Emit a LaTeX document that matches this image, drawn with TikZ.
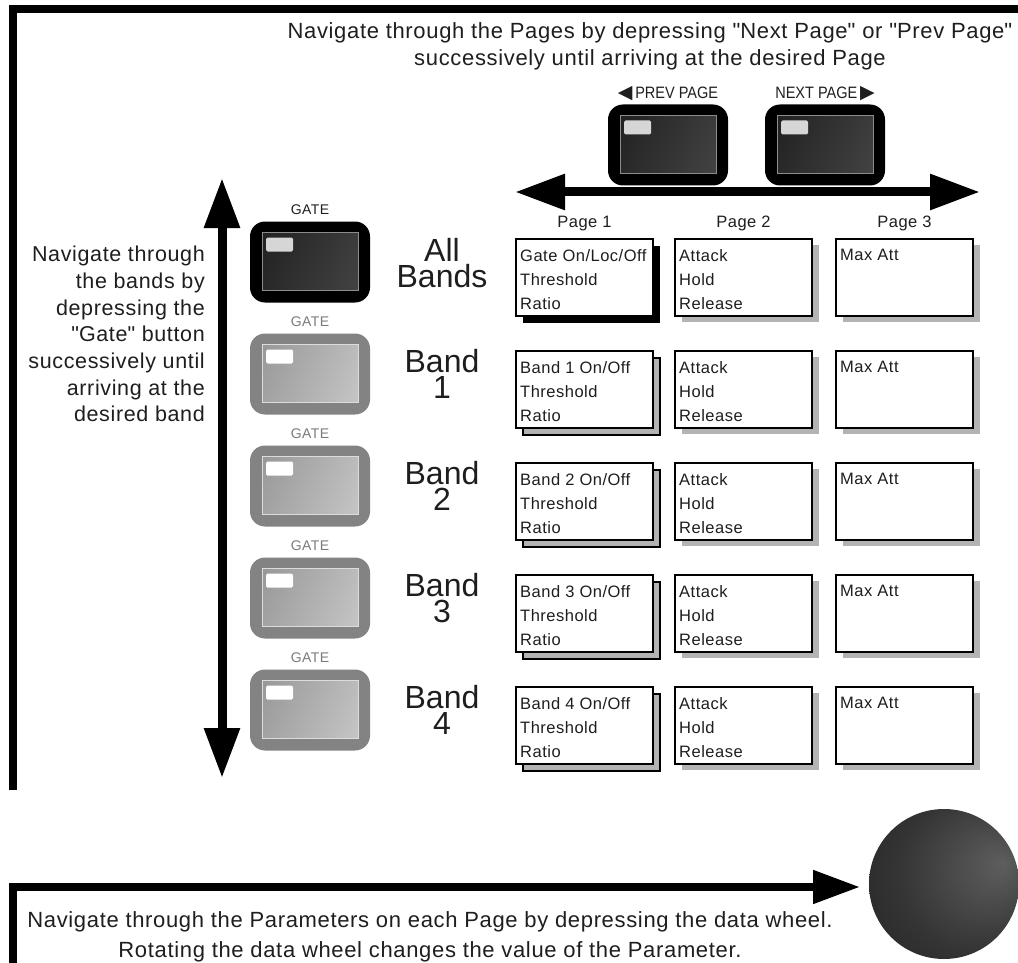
\documentclass[tikz,border=0pt]{standalone}
\usepackage{fontspec}
\setmainfont{Liberation Sans}[LetterSpace=3]
\newfontfamily\bandfont{Liberation Sans}
\newfontfamily\arrowglyphs{DejaVu Sans}
\newfontfamily\keycapfont{Liberation Sans}[FakeStretch=0.88]
\usetikzlibrary{arrows.meta,positioning,shadows}

\definecolor{ink}{HTML}{1E1E1E}
\definecolor{shadowgray}{HTML}{B3B3B3}
\definecolor{rimgray}{HTML}{838383}
\definecolor{gatetext}{HTML}{7A7A7A}
\definecolor{keydarklo}{HTML}{222222}
\definecolor{keydarkhi}{HTML}{424242}
\definecolor{keydarkrim}{HTML}{8C8C8C}
\definecolor{keydarkled}{HTML}{D6D6D6}
\definecolor{keygraylo}{HTML}{999999}
\definecolor{keygrayhi}{HTML}{C4C4C4}
\definecolor{keygrayrim}{HTML}{DCDCDC}
\definecolor{wheelhi}{HTML}{5E5E5E}
\definecolor{wheelmid}{HTML}{343434}
\definecolor{wheellow}{HTML}{1A1A1A}

\pgfdeclareradialshading{wheelshade}{\pgfpoint{20bp}{7bp}}{%
  color(0bp)=(wheelhi); color(26bp)=(wheelmid); color(54bp)=(wheellow)}

% face of a key: dark side, light side, rim line, led
\newcommand{\keyface}[4]{%
  \shade[sharp corners, left color=#1, right color=#2, shading angle=65]
    ([xshift=12pt,yshift=-11pt]path picture bounding box.north west)
    rectangle ([xshift=-12pt,yshift=12pt]path picture bounding box.south east);
  \draw[sharp corners, #3, line width=0.8pt]
    ([xshift=12pt,yshift=-11pt]path picture bounding box.north west)
    rectangle ([xshift=-12pt,yshift=12pt]path picture bounding box.south east);
  \fill[#4, rounded corners=1.5pt]
    ([xshift=16pt,yshift=-16pt]path picture bounding box.north west)
    rectangle ++(27pt,-14pt);
}

\tikzset{
  frameline/.style={line width=8pt},
  bigarrow/.style={line width=9pt, {Triangle[length=50pt,width=34pt]}-{Triangle[length=50pt,width=34pt]}},
  keybase/.style={rounded corners=15pt, minimum width=120pt, minimum height=81pt, inner sep=0pt, outer sep=0pt},
  blackkey/.style={keybase, fill=black, path picture={\keyface{keydarklo}{keydarkhi}{keydarkrim}{keydarkled}}},
  graykey/.style={keybase, fill=rimgray, path picture={\keyface{keygraylo}{keygrayhi}{keygrayrim}{white}}},
  gatelabel/.style={font=\fontsize{14}{14}\selectfont, inner sep=0pt, text depth=0pt},
  navlabel/.style={font=\keycapfont\fontsize{16.5}{16.5}\selectfont, inner sep=0pt, text depth=0pt, text=ink},
  bandlabel/.style={anchor=north, align=center, inner sep=0pt, font=\bandfont\fontsize{32}{26}\selectfont, text=ink},
  pagebox/.style={draw, line width=2.2pt, fill=white, minimum width=137pt, minimum height=77pt,
    inner sep=0pt, outer sep=0pt, anchor=north west},
  flatshadow/.style={drop shadow={shadow xshift=7pt, shadow yshift=-6pt, fill=shadowgray, opacity=1}},
  cardshadow/.style={drop shadow={shadow xshift=7pt, shadow yshift=-7pt, fill=shadowgray, draw=black, line width=2.2pt, opacity=1}},
  boldshadow/.style={drop shadow={shadow xshift=7pt, shadow yshift=-7pt, fill=black, opacity=1}},
  boxtext/.style={anchor=north west, align=left, inner sep=0pt, font=\fontsize{16.5}{24}\selectfont, text=ink},
  collabel/.style={anchor=base, inner sep=0pt, font=\fontsize{16.5}{16.5}\selectfont, text=ink},
  notetext/.style={inner sep=0pt, text=ink},
}

\begin{document}
\begin{tikzpicture}[x=1pt,y=-1pt]
  \useasboundingbox (0,0) rectangle (1018,963);

  % outer frame
  \draw[frameline] (13,790) -- (13,9) -- (1030,9);

  \node[notetext, anchor=north, align=center, font=\fontsize{22}{27}\selectfont] (pagenote) at (650,22)
    {Navigate through the Pages by depressing \textquotedbl Next Page\textquotedbl{} or \textquotedbl Prev Page\textquotedbl\\successively until arriving at the desired Page};

  % page keys
  \node[blackkey] (prevkey) at (668,145) {};
  \node[blackkey] (nextkey) at (825,145) {};
  \node[navlabel, above=6pt of prevkey] (prevlbl) {{\arrowglyphs\fontsize{19}{19}\selectfont ◀}\,PREV PAGE};
  \node[navlabel, above=6pt of nextkey] (nextlbl) {NEXT PAGE\,{\arrowglyphs\fontsize{19}{19}\selectfont ▶}};

  \coordinate (hleft) at (515,192);
  \coordinate (hright) at (980,192);
  \draw[bigarrow] (hleft) -- (hright);

  \node[collabel] (pg1) at (584.5,227) {Page 1};
  \node[collabel] (pg2) at (743.5,227) {Page 2};
  \node[collabel] (pg3) at (904.5,227) {Page 3};

  % band keys
  \coordinate (vtop) at (222,178);
  \coordinate (vbot) at (222,778);
  \draw[bigarrow] (vtop) -- (vbot);

  \node[notetext, anchor=north east, align=right, font=\fontsize{21.5}{26.7}\selectfont] (bandnote) at (205,246)
    {Navigate through\\the bands by\\depressing the\\\textquotedbl Gate\textquotedbl{} button\\successively until\\arriving at the\\desired band};

  \node[blackkey] (key0) at (310,262) {};
  \node[gatelabel, text=ink, above=7pt of key0] (gate0) {GATE};
  \node[bandlabel] (band0) at (442,238) {All\\Bands};
  \node[pagebox, boldshadow] (pa0) at (516,239) {};
  \node[pagebox, flatshadow] (pb0) at (675,239) {};
  \node[pagebox, flatshadow] (pc0) at (836,239) {};
  \node[boxtext] (ta0) at ([xshift=4pt,yshift=-10pt]pa0.north west) {Gate On/Loc/Off\\Threshold\\Ratio};
  \node[boxtext] (tb0) at ([xshift=4pt,yshift=-10pt]pb0.north west) {Attack\\Hold\\Release};
  \node[boxtext] (tc0) at ([xshift=4pt,yshift=-10pt]pc0.north west) {Max Att};

  \foreach \r in {1,...,4} {
    \pgfmathsetmacro\ky{262+112*\r}
    \pgfmathsetmacro\by{239+112*\r}
    \node[graykey] (key\r) at (310,\ky) {};
    \node[gatelabel, text=gatetext, above=7pt of key\r] (gate\r) {GATE};
    \node[bandlabel] (band\r) at (442,\by-2) {Band\\\r};
    \node[pagebox, cardshadow] (pa\r) at (516,\by) {};
    \node[pagebox, flatshadow] (pb\r) at (675,\by) {};
    \node[pagebox, flatshadow] (pc\r) at (836,\by) {};
    \node[boxtext] (ta\r) at ([xshift=4pt,yshift=-10pt]pa\r.north west) {Band \r{} On/Off\\Threshold\\Ratio};
    \node[boxtext] (tb\r) at ([xshift=4pt,yshift=-10pt]pb\r.north west) {Attack\\Hold\\Release};
    \node[boxtext] (tc\r) at ([xshift=4pt,yshift=-10pt]pc\r.north west) {Max Att};
  }

  % data wheel
  \node[circle, minimum size=150pt, inner sep=0pt, shading=wheelshade] (wheel) at (944,884) {};
  \coordinate (wheeltip) at (860,887);
  \draw[frameline, -{Triangle[length=47pt,width=32pt]}] (13,970) -- (13,887) -- (wheeltip);

  \node[notetext, anchor=north, align=center, font=\fontsize{22}{30}\selectfont] (wheelnote) at (430,911)
    {Navigate through the Parameters on each Page by depressing the data wheel.\\Rotating the data wheel changes the value of the Parameter.};
\end{tikzpicture}
\end{document}
